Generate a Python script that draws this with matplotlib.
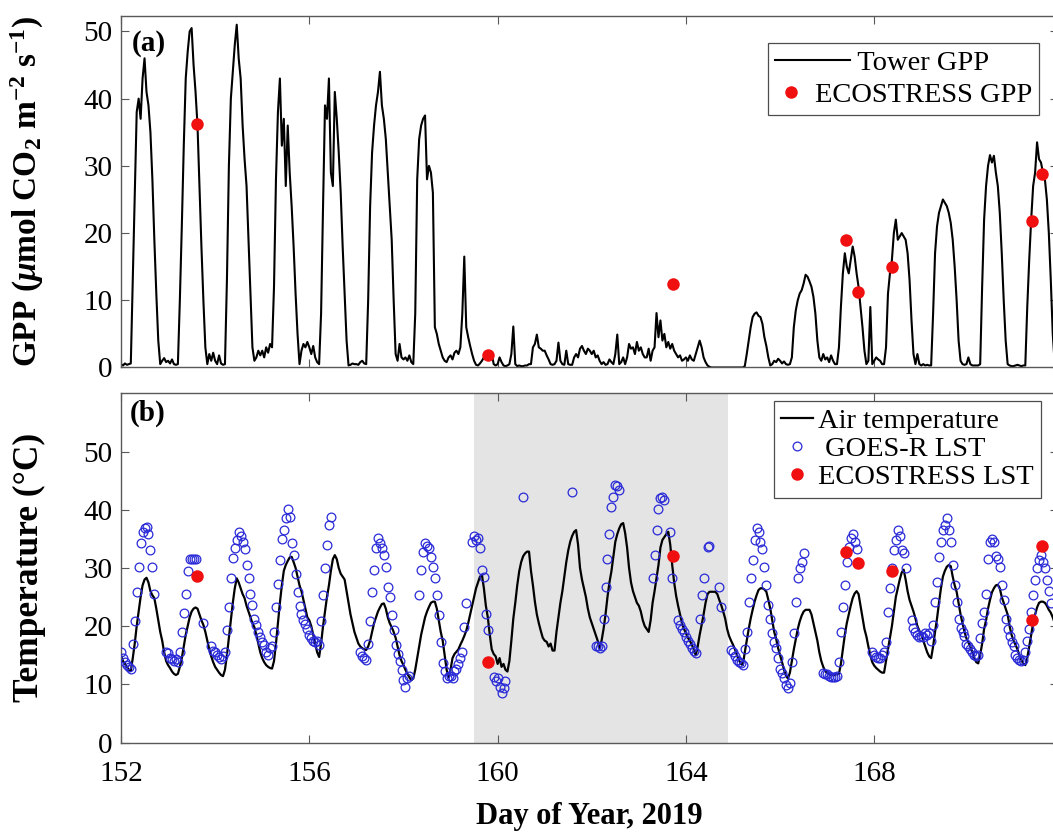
import numpy as np
import matplotlib
matplotlib.use("Agg")
import matplotlib.pyplot as plt
from matplotlib.legend_handler import HandlerLine2D

nan = np.nan

# ---------------------------------------------------------------
# Hourly series starting at DOY 152.0 (one row per day, 24 values)
# ---------------------------------------------------------------
tower_gpp = [
    0.5, 0.3, 0.6, 0.4, 0.5, 0.6, 13, 26, 38, 40, 37, 43, 46, 41, 39, 35, 28, 19, 11, 4, 0.5, 1.0, 1.4, 0.8,    # 152
    1.0, 0.6, 1.2, 0.5, 0.4, 0.5, 10, 21, 33, 43, 47, 50, 50.5, 45, 41, 36, 27, 18, 10, 3, 0.5, 2.0, 1.0, 2.2,  # 153
    1.0, 0.5, 1.8, 0.6, 0.4, 0.5, 13, 30, 40, 44, 48, 51, 46, 43, 36, 31, 27, 19, 11, 3, 1.0, 1.5, 2.5, 1.8,    # 154
    2.5, 1.5, 3.0, 2.2, 3.5, 3.0, 12, 28, 38, 43, 33, 37, 27, 36, 29, 24, 18, 11, 5, 0.5, 2.5, 3.5, 3.0, 3.8,    # 155
    3.0, 2.0, 3.2, 1.5, 0.8, 0.5, 8, 24, 39, 37, 43, 29, 27, 41, 37, 32, 26, 18, 11, 4, 0.3, 0.4, 0.6, 0.5,     # 156
    0.5, 0.4, 0.8, 1.0, 0.6, 0.5, 10, 24, 32, 36, 39, 41, 44, 39, 37, 34, 29, 24, 19, 10, 2, 1, 3.5, 1.5,       # 157
    1.2, 1.5, 1.0, 1.8, 0.8, 0.5, 8, 28, 34, 36, 37, 37.5, 28, 30, 29, 26, 6, 5, 3.5, 2.5, 1.5, 1.0, 0.8, 1.5,  # 158
    1.8, 1.2, 2.2, 2.5, 2.0, 3.0, 8, 16.5, 6, 4.5, 3.2, 2.0, 1.0, 0.4, 0.3, 0.6, 1.0, 1.5, 1.5, 1.6, 1.2, 2.0, 0.5, 0.3,  # 159
    0.5, 1.5, 0.8, 0.3, 0.2, 0.3, 0.5, 2.0, 6.1, 0.5, 0.2, 0.3, 0.2, 0.2, 0.3, 0.3, 0.5, 0.5, 3.0, 3.5, 4.9, 3.0, 2.8, 2.5,  # 160
    2.5, 1.8, 1.2, 0.5, 0.4, 0.5, 1.0, 3.7, 1.0, 0.5, 0.4, 2.5, 0.5, 0.4, 0.4, 1.5, 2.0, 1.5, 2.8, 3.2, 2.5, 2.0, 2.8, 2.5,  # 161
    2.0, 2.5, 1.5, 1.8, 1.0, 0.5, 0.8, 0.4, 0.5, 1.2, 0.8, 0.5, 2.0, 4.9, 0.5, 0.8, 1.5, 0.5, 1.5, 3.5, 2.8, 3.0, 2.0, 3.8,  # 162
    2.5, 3.0, 2.0, 1.5, 1.5, 2.8, 1.0, 2.5, 3.0, 8.1, 4.5, 7.0, 4.0, 5.0, 3.0, 3.8, 2.8, 3.5, 2.5, 2.0, 1.5, 1.8, 1.0, 1.2,  # 163
    1.5, 1.0, 1.8, 1.2, 1.0, 2.0, 3.0, 4.0, 3.0, 1.5, 0.8, 0.3, 0.1, 0, 0, 0, 0, 0, 0, 0, 0, 0, 0, 0,          # 164
    0, 0, 0, 0, 0, 0, 0.2, 2, 4, 6, 7.5, 8, 8.2, 7.7, 7.5, 6.5, 4.5, 3.2, 1.5, 0.3, 0.5, 1.0, 0.8, 1.3,        # 165
    1.0, 0.6, 0.9, 0.5, 0.4, 0.5, 1.5, 6, 8.5, 10, 11, 11.5, 12.5, 13.8, 13.5, 12.8, 12, 10.5, 8, 4, 1.5, 1.0, 2.0, 1.2,  # 166
    1.5, 0.8, 1.8, 1.0, 0.5, 0.5, 3, 9, 14, 17, 15, 14, 16, 18, 16.5, 14, 12, 9, 6, 2.5, 0.5, 1.0, 9.0, 0.5,   # 167
    1.0, 1.5, 1.2, 1.0, 0.5, 0.5, 3, 11, 14, 16, 20, 22, 19, 19.5, 20, 19.5, 19, 17, 13, 7, 2, 0.5, 2.0, 0.5,  # 168
    0.3, 0.5, 0.3, 0.4, 0.3, 0.3, 8, 17, 21, 23, 24, 25, 24.5, 24, 23, 21.5, 19, 15, 10, 4, 1, 0.5, 0.4, 0.5, # 169
    1.5, 0.5, 0.3, 0.3, 0.3, 0.3, 0.5, 12, 22, 27, 30, 31.6, 30.5, 31.5, 29, 27, 23, 17, 10, 4, 0.5, 0.3, 0.2, 0.2,  # 170
    0.3, 0.4, 0.3, 0.2, 0.3, 0.3, 9, 16, 22, 27, 29, 33.5, 31, 30.5, 29, 28, 25, 20, 13, 5, 0.5, 0.4,          # 171
]

air_temp = [
    15.0, 14.0, 13.5, 13.0, 12.5, 12.3, 14.5, 17.0, 20.0, 22.5, 25.0, 27.0, 28.0, 28.3, 27.5, 26.0, 25.3, 24.8, 23.0, 21.0, 19.0, 17.5, 15.5, 14.0,  # 152
    13.3, 12.8, 12.2, 11.8, 11.6, 11.8, 13.0, 14.5, 16.5, 18.5, 20.0, 21.5, 22.5, 23.0, 23.2, 23.0, 22.0, 21.0, 20.2, 19.0, 17.5, 16.0, 14.8, 13.8,  # 153
    13.0, 12.5, 12.0, 11.6, 11.4, 12.5, 15.0, 18.0, 21.0, 24.0, 26.5, 28.2, 27.5, 26.5, 25.5, 24.8, 23.5, 22.5, 21.5, 20.5, 19.8, 18.5, 17.0, 15.5,  # 154
    14.5, 13.8, 13.3, 13.0, 12.8, 12.7, 14.0, 17.0, 20.5, 24.0, 27.0, 29.5, 30.5, 31.2, 31.8, 31.9, 31.0, 30.0, 28.5, 27.0, 26.0, 24.5, 23.0, 21.5,  # 155
    21.0, 20.0, 18.5, 17.0, 15.5, 14.7, 17.0, 20.0, 22.5, 25.0, 27.0, 29.5, 31.5, 32.2, 31.5, 30.0, 29.0, 28.5, 28.0, 26.0, 24.0, 22.0, 20.5, 19.0,  # 156
    18.0, 17.0, 16.5, 16.2, 16.0, 15.9, 16.5, 17.5, 19.0, 20.5, 21.5, 22.5, 23.2, 23.8, 23.9, 23.0, 21.5, 20.5, 19.8, 19.0, 18.0, 16.5, 15.0, 14.0,  # 157
    13.3, 12.5, 11.8, 11.2, 10.7, 11.0, 12.5, 14.5, 16.5, 18.5, 20.0, 21.5, 22.5, 23.3, 24.0, 24.2, 24.2, 23.0, 21.0, 19.0, 17.5, 15.0, 12.5, 11.2,  # 158
    12.5, 14.5, 15.2, 15.6, 16.0, 16.8, 17.5, 18.3, 19.2, 20.5, 22.0, 23.5, 25.0, 26.5, 27.5, 28.5, 28.8, 26.5, 23.5, 21.5, 18.5, 16.0, 15.2, 14.8,  # 159
    13.5, 14.5, 13.0, 13.5, 12.5, 12.2, 14.0, 17.5, 21.3, 24.0, 27.0, 29.4, 31.0, 32.0, 32.5, 32.8, 32.8, 29.5, 27.0, 24.2, 22.0, 20.5, 19.2, 18.0,  # 160
    17.5, 17.3, 16.5, 17.0, 15.8, 15.8, 19.0, 21.5, 24.0, 26.0, 28.5, 31.0, 33.0, 34.5, 35.5, 36.2, 36.5, 34.0, 30.0, 28.0, 26.5, 25.0, 23.0, 21.5,  # 161
    20.5, 19.5, 18.5, 17.5, 16.2, 17.5, 19.5, 22.0, 25.0, 27.5, 29.4, 32.0, 34.5, 35.8, 36.8, 37.5, 37.7, 36.0, 33.5, 30.0, 27.5, 26.0, 25.0, 24.0,  # 162
    23.5, 22.5, 21.0, 20.0, 19.5, 19.0, 21.0, 24.0, 26.0, 28.2, 30.5, 33.5, 34.8, 35.3, 35.8, 36.2, 34.0, 30.5, 27.5, 25.2, 23.5, 22.0, 20.5, 19.5,  # 163
    18.8, 18.0, 17.5, 16.8, 16.0, 15.0, 16.5, 18.5, 20.2, 22.0, 24.0, 25.5, 25.9, 25.9, 25.9, 25.9, 25.5, 24.5, 23.6, 22.5, 21.3, 19.5, 18.3, 17.5,  # 164
    16.8, 16.0, 15.0, 14.2, 13.5, 13.3, 15.5, 17.5, 19.5, 21.3, 22.8, 24.2, 25.3, 26.2, 26.5, 26.5, 26.3, 25.9, 24.5, 23.0, 21.0, 19.0, 17.8, 16.2,  # 165
    15.0, 13.8, 12.5, 11.5, 11.0, 12.0, 14.0, 16.0, 17.8, 19.5, 20.8, 21.8, 22.5, 22.8, 22.8, 22.8, 22.0, 20.5, 19.0, 17.5, 15.5, 14.0, 13.0, 12.3,  # 166
    11.9, 11.7, 11.6, 11.6, 11.6, 11.8, 11.8, 13.5, 16.0, 18.5, 20.5, 22.0, 23.5, 24.8, 25.6, 26.0, 25.5, 23.5, 21.5, 19.5, 18.2, 16.5, 15.0, 13.8,  # 167
    13.2, 12.8, 12.5, 12.2, 12.0, 12.0, 14.0, 16.0, 17.9, 20.0, 22.5, 25.0, 26.5, 28.0, 29.2, 29.7, 28.0, 26.0, 24.5, 23.5, 22.5, 21.3, 20.0, 19.2,  # 168
    18.5, 17.5, 16.5, 15.5, 14.8, 14.5, 16.5, 19.0, 21.3, 24.0, 26.5, 28.5, 29.5, 30.2, 30.5, 30.3, 28.5, 27.0, 25.9, 24.0, 22.0, 20.5, 19.0, 17.9,  # 169
    17.2, 16.5, 15.5, 14.5, 13.8, 13.6, 15.0, 17.0, 19.5, 21.0, 23.0, 24.5, 25.8, 26.5, 27.0, 27.1, 26.5, 25.0, 24.0, 23.0, 22.0, 20.0, 18.5, 17.5,  # 170
    16.8, 16.0, 15.0, 14.2, 13.5, 13.3, 14.5, 16.5, 18.5, 20.5, 22.0, 23.2, 24.0, 24.2, 24.2, 24.0, 23.5, 22.8, 22.3, 21.5, 20.5, 20.0,              # 171
]

goes_lst = [
    15.5, 14.5, 13.8, 13.3, 13.0, 12.7, 17.0, 20.9, 25.9, 30.2, 34.2, 36.2, 36.8, 37.1, 35.9, 33.1, 30.2, 25.6, nan, nan, nan, nan, nan, 15.6,    # 152
    15.3, 14.6, 14.3, 14.0, 14.3, 13.9, 15.5, 19.0, 22.2, 25.6, 29.5, 31.5, 31.5, 31.5, 31.5, nan, nan, nan, 20.5, nan, nan, nan, 16.5, 15.8,     # 153
    15.6, 15.0, 14.7, 14.4, 14.9, 15.6, 19.3, 23.3, 28.2, 31.7, 33.4, 34.8, 36.2, 35.5, 34.5, 33.2, 30.5, 28.2, 25.6, 23.6, 21.3, 20.2, 19.0, 18.2,  # 154
    17.3, 16.8, 15.6, 15.0, 16.2, 16.5, 19.0, 23.3, 27.3, 31.4, 35.0, 36.5, 38.5, 40.1, 38.8, 34.2, 32.2, 29.0, 25.9, 23.5, 22.0, 21.0, 20.3, 19.5,  # 155
    18.5, 18.0, 17.5, 17.2, 17.5, 16.8, 20.8, 25.3, 29.9, 33.9, 37.4, 38.8, nan, nan, nan, nan, nan, nan, nan, nan, nan, nan, nan, nan,           # 156
    nan, nan, 15.6, 14.8, 14.5, 14.2, 17.0, 20.8, 25.9, 29.6, 33.4, 35.1, 34.2, 33.4, 32.2, 30.2, 26.8, 25.0, 21.9, 19.3, 16.8, 15.2, 14.0, 12.5,    # 157
    10.8, 9.6, 11.0, 11.5, nan, nan, nan, nan, 25.3, 29.6, 32.8, 34.2, 33.8, 33.4, 31.9, 30.2, 28.2, 25.3, 21.9, 17.3, 13.6, 12.2, 11.0, 11.5,      # 158
    11.4, 11.0, 12.2, 12.7, 13.5, 14.5, 15.6, 19.9, 23.9, nan, nan, 34.5, 35.4, 34.8, 35.2, 33.5, 29.6, 28.4, 22.0, 19.3, nan, nan, 11.3, 10.5,     # 159
    11.0, 9.6, 8.5, 9.3, 10.5, nan, nan, nan, nan, nan, nan, nan, nan, 42.1, nan, nan, nan, nan, nan, nan, nan, nan, nan, nan,                    # 160
    nan, nan, nan, nan, nan, nan, nan, nan, nan, nan, nan, nan, nan, nan, 43.0, nan, nan, nan, nan, nan, nan, nan, nan, nan,                      # 161
    nan, nan, 16.5, 16.5, 16.2, 16.5, 21.3, 26.8, 31.6, 35.9, 40.5, 42.2, 44.2, 44.0, 43.4, nan, nan, nan, nan, nan, nan, nan, nan, nan,          # 162
    nan, nan, nan, nan, nan, nan, nan, 28.2, 32.2, 36.5, 40.1, 42.0, 42.2, 41.7, nan, nan, 36.2, 28.2, nan, nan, 21.0, 20.2, 19.5, 19.0,          # 163
    18.2, 17.5, 17.0, 16.2, 15.8, 15.4, nan, 21.3, 25.3, 28.2, nan, 33.6, 33.8, nan, nan, nan, nan, 26.8, 23.3, nan, nan, nan, nan, 15.9,         # 164
    15.5, 14.8, 14.2, 13.9, 13.6, 13.3, 16.0, 19.0, 24.2, 28.2, 31.4, 34.8, 36.8, 36.2, 34.5, 33.3, 30.2, 27.0, 23.6, 21.3, 18.8, 17.3, 16.2, 14.5,  # 165
    12.7, 11.9, 11.0, 9.9, 9.3, 10.2, 13.9, 18.8, 24.2, 28.2, 29.9, 31.1, 32.5, nan, nan, nan, nan, nan, nan, nan, nan, nan, 12.0, 11.8,          # 166
    11.8, 11.5, 11.3, 11.2, 11.2, 11.4, 13.9, 19.0, 23.3, 27.0, 31.0, 33.6, 35.2, 35.9, 34.5, 33.3, nan, nan, nan, nan, nan, nan, nan, 15.5,       # 167
    15.0, 14.7, 14.5, 14.6, 15.0, 15.5, 17.3, 22.5, 26.5, 30.0, 33.0, 34.8, 36.5, 35.5, 33.0, 32.5, 30.0, nan, nan, 21.0, 19.6, 19.0, 18.5, 18.2,    # 168
    18.3, 18.2, 18.8, 18.5, 18.8, 17.5, 20.2, 24.2, 27.6, 31.9, 34.5, 36.5, 37.4, 38.5, 36.5, 34.5, 30.5, 27.0, 24.2, 21.3, 19.6, 19.0, 18.3, 17.0,  # 169
    16.5, 16.0, 15.5, 15.0, 14.8, 15.0, 17.9, 20.5, 22.5, 25.6, 31.6, 34.5, 35.0, 34.5, 32.0, 31.5, 30.2, 27.0, 24.5, 21.3, 19.5, 18.3, 17.2, 16.5,  # 170
    15.0, 14.5, 14.2, 14.0, 14.2, 15.6, 17.5, 19.5, 22.5, 25.3, 28.0, 30.0, 31.4, 32.2, 31.0, 30.0, 28.0, 26.0, 24.0,                            # 171
]

# ECOSTRESS overpasses (DOY) with retrieved GPP and LST
eco_day = [153.61, 159.80, 163.73, 167.39, 167.65, 168.37, 171.35, 171.57]
eco_gpp = [36.3, 1.8, 12.4, 19.0, 11.3, 14.9, 21.8, 28.8]
eco_lst = [28.6, 13.9, 32.1, 32.7, 30.8, 29.5, 21.1, 33.8]

# highlighted period in panel (b)
shade_start, shade_end = 159.5, 164.9

x_ticks = [152, 156, 160, 164, 168]
gpp_ticks = [0, 10, 20, 30, 40, 50]
temp_ticks = [0, 10, 20, 30, 40, 50]


class ExtendedLine(HandlerLine2D):
    """Legend handler whose sample line runs past the handle box."""

    def __init__(self, extra, **kw):
        super().__init__(**kw)
        self.extra = extra

    def create_artists(self, legend, orig_handle, xdescent, ydescent,
                       width, height, fontsize, trans):
        return super().create_artists(legend, orig_handle, xdescent, ydescent,
                                      width + self.extra, height, fontsize, trans)


# ---------------------------------------------------------------
plt.rcParams["font.family"] = ["Liberation Serif", "DejaVu Serif"]
plt.rcParams["mathtext.fontset"] = "custom"
plt.rcParams["mathtext.rm"] = "Liberation Serif:bold"
plt.rcParams["mathtext.it"] = "Liberation Serif:italic:bold"
plt.rcParams["mathtext.bf"] = "Liberation Serif:bold"

day0 = 152.0
t_gpp = day0 + np.arange(len(tower_gpp)) / 24.0
t_air = day0 + np.arange(len(air_temp)) / 24.0
t_goes = day0 + np.arange(len(goes_lst)) / 24.0

fig = plt.figure(figsize=(10.53, 8.32), dpi=100)
ax1 = fig.add_axes([0.11491, 0.5583, 0.8897, 0.4225])
ax2 = fig.add_axes([0.11491, 0.10757, 0.8897, 0.4197])

spine_col = "0.35"
tick_size = 21
legend_size = 20.5
red = "#f01010"

for ax in (ax1, ax2):
    ax.set_xlim(152, 171.9)
    ax.set_xticks(x_ticks)
    for s in ax.spines.values():
        s.set_color(spine_col)
        s.set_linewidth(1.0)
    ax.tick_params(direction="in", top=True, right=True, length=6, width=0.8,
                   color=spine_col, labelsize=tick_size, labelcolor="black")
    ax.tick_params(axis="y", pad=6)

# ---- panel (a): GPP
gpp_line, = ax1.plot(t_gpp, tower_gpp, color="black", lw=1.5, zorder=2)
gpp_dots, = ax1.plot(eco_day, eco_gpp, "o", color=red, mec="none", ms=9, zorder=3)
ax1.set_ylim(0, 52.3)
ax1.set_yticks(gpp_ticks)
ax1.tick_params(axis="x", labelbottom=False)
ax1.set_ylabel(r"GPP ($\mu$mol CO$_2$ m$^{-2}$ s$^{-1}$)", fontsize=24,
               fontweight="bold")
ax1.yaxis.set_label_coords(-0.080, 0.5)
ax1.text(0.0114, 0.923, "(a)", transform=ax1.transAxes, fontsize=21,
         fontweight="bold", va="center", ha="left")
leg1 = ax1.legend([gpp_line, gpp_dots],
                  ["      Tower GPP", "ECOSTRESS GPP"],
                  handler_map={gpp_line: ExtendedLine(31)},
                  loc="upper right", bbox_to_anchor=(0.9798, 0.9232),
                  borderaxespad=0, fontsize=legend_size, handlelength=1.15,
                  handletextpad=0.25, labelspacing=0.2, borderpad=0.25,
                  fancybox=False, framealpha=1, edgecolor="0.3")
leg1.get_frame().set_linewidth(0.9)

# ---- panel (b): temperatures
ax2.axvspan(shade_start, shade_end, color="#e4e4e4", lw=0, zorder=0)
ax2.plot(t_air, air_temp, color="black", lw=1.6, label="Air temperature", zorder=2)
ax2.plot(t_goes, goes_lst, "o", ls="none", mfc="none", mec="#2a2ad8", ms=6.3,
         mew=0.9, label=" GOES-R LST", zorder=3)
ax2.plot(eco_day, eco_lst, "o", color=red, mec="none", ms=9,
         label="ECOSTRESS LST", zorder=4)
ax2.set_ylim(0, 60)
ax2.set_yticks(temp_ticks)
ax2.tick_params(axis="x", pad=13)
ax2.set_xlabel("Day of Year, 2019", fontsize=22, fontweight="bold")
ax2.xaxis.set_label_coords(0.5, -0.170)
ax2.set_ylabel("Temperature (\u00b0C)", fontsize=25.5, fontweight="bold")
ax2.yaxis.set_label_coords(-0.080, 0.5)
ax2.text(0.0096, 0.944, "(b)", transform=ax2.transAxes, fontsize=21,
         fontweight="bold", va="center", ha="left")
leg2 = ax2.legend(loc="upper right", bbox_to_anchor=(0.982, 0.978),
                  borderaxespad=0, fontsize=legend_size, handlelength=1.1,
                  handletextpad=0.2, labelspacing=0.08, borderpad=0.25,
                  fancybox=False, framealpha=1, edgecolor="0.3")
leg2.get_frame().set_linewidth(0.9)

fig.savefig("out.png", dpi=100)
